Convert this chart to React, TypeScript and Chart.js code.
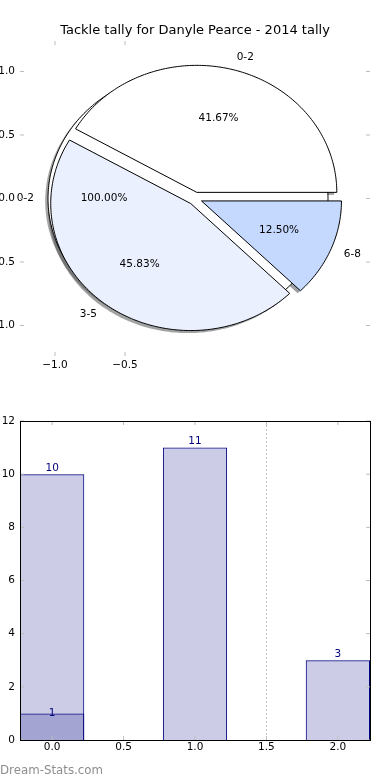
import React, { useEffect, useRef } from "react";
import { Chart, registerables } from "chart.js";

Chart.register(...registerables);

const FONT = "'DejaVu Sans', sans-serif";

// ---------- data ----------
const TITLE = "Tackle tally for Danyle Pearce - 2014 tally";
const pieLabels = ["0-2", "3-5", "6-8"];
const pieValues = [10, 11, 3];
const pieColors = ["#ffffff", "#eaf0fd", "#c5d8fd"];
const innerLabels = ["0-2"];
const innerValues = [1];
const innerColors = ["#ffffff"];
const pieExplode = 0.05;
const pieXTicks = [-1.0, -0.5];
const pieYTicks = [-1.0, -0.5, 0.0, 0.5, 1.0];

const barPositions = [0, 1, 2];
const barValues = [10, 11, 3];
const overlayPositions = [0];
const overlayValues = [1];
const barXTicks = [0, 0.5, 1.0, 1.5, 2.0];
const barYTicks = [0, 2, 4, 6, 8, 10, 12];
const dividerX = 1.5;
const WATERMARK = "Dream-Stats.com";

// ---------- helpers ----------
const DEG = Math.PI / 180;
const fmt1 = (v: number) => (v < 0 ? "\u2212" + Math.abs(v).toFixed(1) : v.toFixed(1));

type Wedge = {
  cx: number; cy: number; t1: number; t2: number; mid: number;
  color: string; label: string; pct: number; full: boolean;
};

function buildWedges(values: number[], labels: string[], colors: string[]): Wedge[] {
  const total = values.reduce((a, b) => a + b, 0);
  let acc = 0;
  return values.map((v, i) => {
    const t1 = (acc / total) * 360;
    acc += v;
    const t2 = (acc / total) * 360;
    const mid = ((t1 + t2) / 2) * DEG;
    return {
      cx: pieExplode * Math.cos(mid), cy: pieExplode * Math.sin(mid),
      t1, t2, mid, color: colors[i], label: labels[i], pct: (v / total) * 100,
      full: t2 - t1 >= 359.999,
    };
  });
}

function shadowColor(hex: string) {
  const n = parseInt(hex.slice(1), 16);
  const r = Math.round(((n >> 16) & 255) * 0.3);
  const g = Math.round(((n >> 8) & 255) * 0.3);
  const b = Math.round((n & 255) * 0.3);
  return `rgba(${r},${g},${b},0.5)`;
}

function wedgePath(ctx: CanvasRenderingContext2D, xs: any, ys: any, w: Wedge, ox: number, oy: number) {
  const P = (u: number, v: number) => [xs.getPixelForValue(u + ox), ys.getPixelForValue(v + oy)];
  ctx.beginPath();
  const n = Math.max(8, Math.ceil(w.t2 - w.t1));
  if (!w.full) {
    const [x0, y0] = P(w.cx, w.cy);
    ctx.moveTo(x0, y0);
  }
  for (let k = 0; k <= n; k++) {
    const t = (w.t1 + ((w.t2 - w.t1) * k) / n) * DEG;
    const [x, y] = P(w.cx + Math.cos(t), w.cy + Math.sin(t));
    if (k === 0 && w.full) ctx.moveTo(x, y);
    else ctx.lineTo(x, y);
  }
  ctx.closePath();
}

const piePlugin = {
  id: "pieWedges",
  afterDatasetsDraw(chart: any) {
    const ctx: CanvasRenderingContext2D = chart.ctx;
    const xs = chart.scales.x;
    const ys = chart.scales.y;
    const a = chart.chartArea;
    const wedges = [
      ...buildWedges(innerValues, innerLabels, innerColors),
      ...buildWedges(pieValues, pieLabels, pieColors),
    ];
    ctx.save();
    // shadows
    wedges.forEach((w) => {
      wedgePath(ctx, xs, ys, w, -0.02, -0.02);
      ctx.fillStyle = shadowColor(w.color);
      ctx.fill();
    });
    // wedges
    ctx.lineWidth = 1;
    ctx.strokeStyle = "#000";
    ctx.lineJoin = "miter";
    wedges.forEach((w) => {
      wedgePath(ctx, xs, ys, w, 0, 0);
      ctx.fillStyle = w.color;
      ctx.fill();
      ctx.stroke();
    });
    // texts
    ctx.fillStyle = "#000";
    ctx.font = `10.5px ${FONT}`;
    ctx.textBaseline = "middle";
    wedges.forEach((w) => {
      const c = Math.cos(w.mid), s = Math.sin(w.mid);
      ctx.textAlign = "center";
      ctx.fillText(`${w.pct.toFixed(2)}%`, xs.getPixelForValue(w.cx + 0.6 * c), ys.getPixelForValue(w.cy + 0.6 * s));
      const lx = w.cx + 1.1 * c;
      ctx.textAlign = lx > 0 ? "left" : "right";
      ctx.fillText(w.label, xs.getPixelForValue(lx), ys.getPixelForValue(w.cy + 1.1 * s));
    });
    // tick marks
    ctx.strokeStyle = "#bdbdbd";
    ctx.lineWidth = 1;
    ctx.beginPath();
    xs.ticks.forEach((t: any) => {
      const px = xs.getPixelForValue(t.value);
      ctx.moveTo(px, a.top); ctx.lineTo(px, a.top + 4);
      ctx.moveTo(px, a.bottom); ctx.lineTo(px, a.bottom - 4);
    });
    ys.ticks.forEach((t: any) => {
      const py = ys.getPixelForValue(t.value);
      ctx.moveTo(a.left, py); ctx.lineTo(a.left + 4, py);
      ctx.moveTo(a.right, py); ctx.lineTo(a.right - 4, py);
    });
    ctx.stroke();
    ctx.restore();
  },
};

const barPlugin = {
  id: "barDecor",
  afterDatasetsDraw(chart: any) {
    const ctx: CanvasRenderingContext2D = chart.ctx;
    const xs = chart.scales.x;
    const ys = chart.scales.y;
    const a = chart.chartArea;
    ctx.save();
    // dotted divider
    const dx = Math.round(xs.getPixelForValue(dividerX)) + 0.5;
    ctx.strokeStyle = "#c4c4c4";
    ctx.lineWidth = 1;
    ctx.setLineDash([2, 2]);
    ctx.beginPath();
    ctx.moveTo(dx, a.top);
    ctx.lineTo(dx, a.bottom);
    ctx.stroke();
    ctx.setLineDash([]);
    // tick marks
    ctx.strokeStyle = "#bdbdbd";
    ctx.beginPath();
    xs.ticks.forEach((t: any) => {
      const px = xs.getPixelForValue(t.value);
      ctx.moveTo(px, a.top); ctx.lineTo(px, a.top + 4);
      ctx.moveTo(px, a.bottom); ctx.lineTo(px, a.bottom - 4);
    });
    ys.ticks.forEach((t: any) => {
      const py = ys.getPixelForValue(t.value);
      ctx.moveTo(a.left, py); ctx.lineTo(a.left + 4, py);
      ctx.moveTo(a.right, py); ctx.lineTo(a.right - 4, py);
    });
    ctx.stroke();
    // frame
    ctx.strokeStyle = "#000";
    ctx.lineWidth = 1;
    const l = Math.floor(a.left) + 0.5, t = Math.floor(a.top) + 0.5;
    const r = Math.floor(a.right) + 0.5, b = Math.floor(a.bottom) + 0.5;
    ctx.strokeRect(l, t, r - l, b - t);
    // value labels
    ctx.fillStyle = "#000080";
    ctx.font = `10.5px ${FONT}`;
    ctx.textAlign = "center";
    const main = chart.getDatasetMeta(0);
    main.data.forEach((el: any, i: number) => {
      ctx.textBaseline = "bottom";
      ctx.fillText(String(barValues[i]), el.x, el.y - 1);
    });
    const over = chart.getDatasetMeta(1);
    over.data.forEach((el: any, i: number) => {
      ctx.textBaseline = "middle";
      ctx.fillText(String(overlayValues[i]), el.x, el.y);
    });
    ctx.restore();
  },
};

const tickFont = { family: FONT, size: 10.5 };

function PieChart() {
  const ref = useRef<HTMLCanvasElement>(null);
  useEffect(() => {
    const chart = new Chart(ref.current as HTMLCanvasElement, {
      type: "scatter",
      data: { datasets: [] },
      options: {
        animation: false,
        responsive: false,
        devicePixelRatio: 1,
        layout: { padding: { top: 0, right: 20, bottom: 0, left: 0 } },
        plugins: {
          legend: { display: false },
          tooltip: { enabled: false },
          title: {
            display: true,
            fullSize: false,
            text: TITLE,
            color: "#000",
            font: { family: FONT, size: 13, weight: "normal" },
            padding: { top: 23, bottom: 2.4 },
          },
        },
        scales: {
          x: {
            type: "linear",
            min: -1.25,
            max: 1.25,
            grid: { display: false, drawTicks: false },
            border: { display: false },
            afterBuildTicks: (s: any) => { s.ticks = pieXTicks.map((v) => ({ value: v })); },
            afterFit: (s: any) => { s.height = 34; },
            ticks: {
              callback: (v: any) => fmt1(Number(v)),
              color: "#000",
              font: tickFont,
              padding: 3,
              autoSkip: false,
              maxRotation: 0,
            },
          },
          y: {
            type: "linear",
            min: -1.24,
            max: 1.24,
            grid: { display: false, drawTicks: false },
            border: { display: false },
            afterBuildTicks: (s: any) => { s.ticks = pieYTicks.map((v) => ({ value: v })); },
            afterFit: (s: any) => { s.width = 20; },
            ticks: {
              callback: (v: any) => fmt1(Number(v)),
              color: "#000",
              font: tickFont,
              padding: 5,
              autoSkip: false,
            },
          },
        },
      } as any,
      plugins: [piePlugin],
    });
    return () => chart.destroy();
  }, []);
  return (
    <canvas
      ref={ref}
      width={390}
      height={390}
      style={{ position: "absolute", left: 0, top: 0, width: 390, height: 390 }}
    />
  );
}

function BarChart() {
  const ref = useRef<HTMLCanvasElement>(null);
  useEffect(() => {
    const chart = new Chart(ref.current as HTMLCanvasElement, {
      type: "bar",
      data: {
        datasets: [
          {
            data: barPositions.map((x, i) => ({ x, y: barValues[i] })),
            backgroundColor: "rgba(0,0,128,0.2)",
            borderColor: "#000080",
            borderWidth: 1,
            grouped: false,
            order: 1,
            barPercentage: 0.9,
            categoryPercentage: 1,
          },
          {
            data: overlayPositions.map((x, i) => ({ x, y: overlayValues[i] })),
            backgroundColor: "rgba(0,0,128,0.2)",
            borderColor: "#000080",
            borderWidth: 1,
            grouped: false,
            order: 0,
            barPercentage: 0.9,
            categoryPercentage: 1,
          },
        ],
      },
      options: {
        animation: false,
        responsive: false,
        devicePixelRatio: 1,
        layout: { padding: { top: 31, right: 20, bottom: 0, left: 0 } },
        plugins: { legend: { display: false }, tooltip: { enabled: false } },
        scales: {
          x: {
            type: "linear",
            min: -0.225,
            max: 2.225,
            offset: false,
            grid: { display: false, drawTicks: false },
            border: { display: false },
            afterBuildTicks: (s: any) => { s.ticks = barXTicks.map((v) => ({ value: v })); },
            afterFit: (s: any) => { s.height = 40; },
            ticks: {
              callback: (v: any) => Number(v).toFixed(1),
              color: "#000",
              font: tickFont,
              padding: 1,
              autoSkip: false,
              maxRotation: 0,
            },
          },
          y: {
            type: "linear",
            min: 0,
            max: 12,
            grid: { display: false, drawTicks: false },
            border: { display: false },
            afterBuildTicks: (s: any) => { s.ticks = barYTicks.map((v) => ({ value: v })); },
            afterFit: (s: any) => { s.width = 20; },
            ticks: {
              callback: (v: any) => String(v),
              color: "#000",
              font: tickFont,
              padding: 5,
              autoSkip: false,
            },
          },
        },
      } as any,
      plugins: [barPlugin],
    });
    return () => chart.destroy();
  }, []);
  return (
    <canvas
      ref={ref}
      width={390}
      height={390}
      style={{ position: "absolute", left: 0, top: 390, width: 390, height: 390 }}
    />
  );
}

export default function App() {
  return (
    <div style={{ position: "absolute", left: 0, top: 0, width: 390, height: 780, background: "#fff", overflow: "hidden" }}>
      <PieChart />
      <BarChart />
      <div
        style={{
          position: "absolute",
          left: 0,
          top: 763,
          fontFamily: FONT,
          fontSize: "11.8px",
          lineHeight: "14px",
          color: "#8e8e8e",
          whiteSpace: "nowrap",
        }}
      >
        {WATERMARK}
      </div>
    </div>
  );
}
